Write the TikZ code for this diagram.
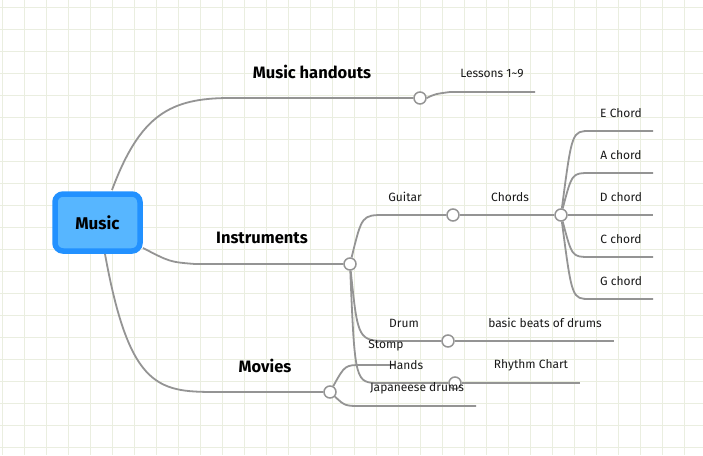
\documentclass[tikz,border=0pt]{standalone}
\usepackage{fontspec}
\setmainfont{Fira Sans}
\begin{document}
\begin{tikzpicture}[x=1pt,y=-1pt,
  br/.style={draw=black!42,line width=1.8pt},
  dot/.style={circle,draw=black!42,line width=1.5pt,fill=white,inner sep=0pt,minimum size=12pt},
  lab/.style={font=\fontsize{12}{14}\selectfont,text=black!90},
  big/.style={font=\bfseries\fontsize{16.5}{18}\selectfont}]
\useasboundingbox (0,0) rectangle (703,455);
\fill[white] (0,0) rectangle (703,455);
\foreach \i in {0,22,...,703} \draw[draw={rgb,255:red,234;green,238;blue,224},line width=0.8pt] (\i+2,0) -- (\i+2,455);
\foreach \i in {0,22,...,455} \draw[draw={rgb,255:red,234;green,238;blue,224},line width=0.8pt] (0,\i+7) -- (703,\i+7);
% central
\node[draw={rgb,255:red,34;green,145;blue,255},line width=5.5pt,fill={rgb,255:red,87;green,182;blue,255},rounded corners=8pt,minimum width=85pt,minimum height=57pt,font=\bfseries\fontsize{17}{19}\selectfont] (music) at (97.5,222.5) {Music};
\coordinate (m1) at (112,190);
\coordinate (m2) at (143,248);
\coordinate (m3) at (105,254);
% dots
\node[dot] (ch) at (420,98) {};
\node[dot] (ci) at (350,264) {};
\node[dot] (cg) at (453,215) {};
\node[dot] (cc) at (561,215) {};
\node[dot] (cd) at (448,341) {};
\node[dot] (chd) at (455,383) {};
\node[dot] (cm) at (330,392) {};
\foreach \n/\y in {e/131,a/173,d/215,c/257,g/299} \coordinate (\n) at (653,\y);
\coordinate (les) at (535,92);
\coordinate (bb) at (614,341);
\coordinate (rc) at (580,383);
\coordinate (st) at (395,365);
\coordinate (jd) at (476,406);
\begin{scope}[br]
\draw (m1) .. controls (140,115) and (170,98) .. (230,98) -- (ch);
\draw (ch.east) .. controls (435,94) .. (450,92) -- (les);
\draw (m2) .. controls (170,262) .. (195,264) -- (ci);
\draw (m3) .. controls (130,392) and (160,392) .. (220,392) -- (cm);
\draw (ci) .. controls (362,215) .. (385,215) -- (cg);
\draw (cg) -- (cc);
\foreach \n/\y in {e/131,a/173,c/257,g/299} \draw (cc) .. controls (572,\y) .. (590,\y) -- (\n);
\draw (cc) -- (d);
\draw (ci) .. controls (358,341) .. (390,341) -- (cd);
\draw (cd) -- (bb);
\draw (ci) .. controls (355,383) .. (380,383) -- (chd);
\draw (chd) -- (rc);
\draw (cm) .. controls (345,365) .. (362,365) -- (st);
\draw (cm) .. controls (345,406) .. (362,406) -- (jd);
\end{scope}
\node[big] at (312,72) {Music handouts};
\node[big] at (262,238) {Instruments};
\node[big] at (265,366) {Movies};
\node[lab] at (492,73) {Lessons 1\textasciitilde9};
\node[lab] at (405,197) {Guitar};
\node[lab] at (510,197) {Chords};
\node[lab] at (621,113) {E Chord};
\node[lab] at (621,155) {A chord};
\node[lab] at (621,197) {D chord};
\node[lab] at (621,239) {C chord};
\node[lab] at (621,281) {G chord};
\node[lab] at (404,323) {Drum};
\node[lab] at (545,323) {basic beats of drums};
\node[lab] at (386,346) {Stomp};
\node[lab] at (406,365) {Hands};
\node[lab] at (531,365) {Rhythm Chart};
\node[lab] at (417,388) {Japaneese drums};
\end{tikzpicture}
\end{document}
